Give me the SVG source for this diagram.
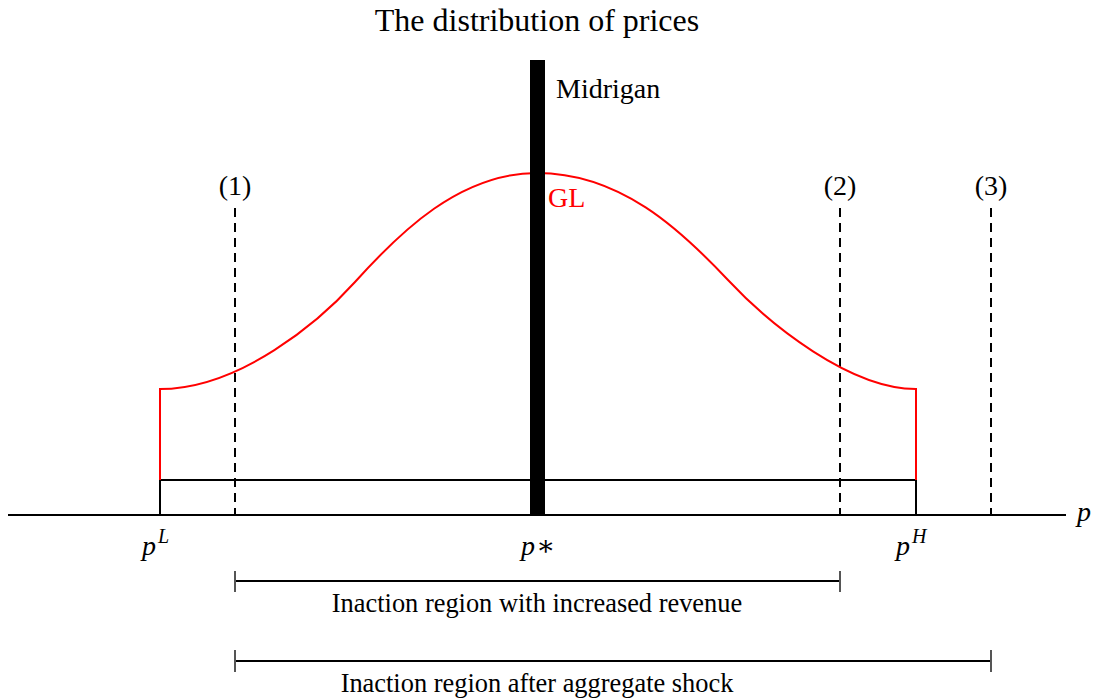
<svg xmlns="http://www.w3.org/2000/svg" width="1098" height="698" viewBox="0 0 1098 698">
<style>
text{font-family:"Liberation Serif","DejaVu Serif",serif;fill:#000}
.lbl{font-size:28px}
.it{font-style:italic}
.sup{font-size:20px;font-style:italic}
.dash{stroke:#000;stroke-width:2;stroke-dasharray:9,6;fill:none}
.ln{stroke:#000;stroke-width:2;fill:none}
.tick{stroke:#555;stroke-width:2}
.red{stroke:#ff0000;stroke-width:2;fill:none}
.cap{font-size:26.4px}
</style>
<rect width="1098" height="698" fill="#fff"/>
<text x="537" y="31" font-size="32" text-anchor="middle">The distribution of prices</text>
<g id="connectors">
<line class="ln" x1="8" y1="515" x2="1066" y2="515"/>
<rect class="ln" x="160" y="480" width="756" height="35"/>
<line class="dash" x1="235" y1="208" x2="235" y2="515"/>
<line class="dash" x1="840" y1="208" x2="840" y2="515"/>
<line class="dash" x1="991" y1="208" x2="991" y2="515"/>
<path class="red" d="M160,480 V389 C240,389 320,321 355,282 C400,232 460,173 537,173 C620,173 680,229 728,280 C770,325 850,389 916,389 V480"/>
<rect x="530" y="60" width="15" height="455" fill="#000"/>
<line class="ln" x1="235" y1="581" x2="840" y2="581"/>
<line class="tick" x1="235" y1="571" x2="235" y2="592"/>
<line class="tick" x1="840" y1="571" x2="840" y2="592"/>
<line class="ln" x1="235" y1="661" x2="991" y2="661"/>
<line class="tick" x1="235" y1="650" x2="235" y2="672"/>
<line class="tick" x1="991" y1="650" x2="991" y2="672"/>
</g>
<g id="labels">
<text class="lbl" x="556" y="98">Midrigan</text>
<text class="lbl" x="548" y="207" style="fill:#ff0000">GL</text>
<text class="lbl" x="235" y="195" text-anchor="middle">(1)</text>
<text class="lbl" x="840" y="195" text-anchor="middle">(2)</text>
<text class="lbl" x="991" y="195" text-anchor="middle">(3)</text>
<text class="lbl it" x="1077" y="521">p</text>
<text class="lbl it" x="142" y="555">p<tspan class="sup" dx="2" dy="-12">L</tspan></text>
<text class="lbl it" x="521" y="555">p<tspan font-style="normal" dx="1">∗</tspan></text>
<text class="lbl it" x="896" y="555">p<tspan class="sup" dx="2" dy="-12">H</tspan></text>
<text class="cap" x="537" y="612" text-anchor="middle">Inaction region with increased revenue</text>
<text class="cap" x="537" y="692" text-anchor="middle">Inaction region after aggregate shock</text>
</g>
</svg>
